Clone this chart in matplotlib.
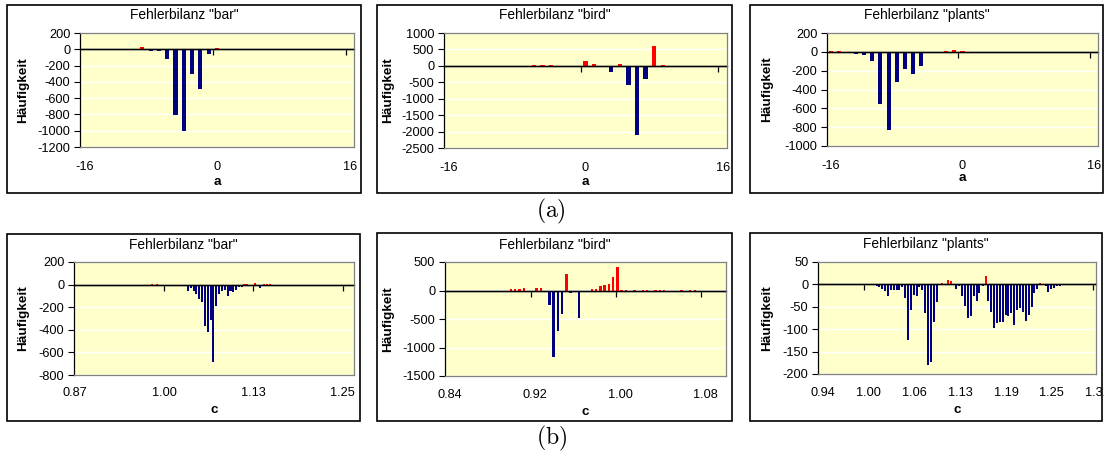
import matplotlib
matplotlib.use('Agg')
import matplotlib.pyplot as plt
from matplotlib.patches import Rectangle
import numpy as np

W, H = 1104, 459
plt.rcParams['font.family'] = ['Liberation Sans', 'DejaVu Sans']
plt.rcParams['axes.unicode_minus'] = False
plt.rcParams['mathtext.fontset'] = 'cm'

# ---------------- data ----------------
a_cats = list(range(-16, 17))
bar_a_vals = [0, 0, 0, 0, 0, 0,
              8, 25, -25, -25, -125, -805, -1000, -300, -485, -60, 10, 8,
              0, 0, 0, 0, 0, 0, 0, 0, 0, 0, 0, 0, 0, 0, 0]
bird_a_vals = [0, 0, 0, 0, 0, 0, 0, 0, 0,
               -15, 15, 30, 15, -20, -20, -20, 135, 50, -40, -190, 45, -575,
               -2110, -405, 605, 30, -20, 0, -25,
               0, 0, 0, 0]
plants_a_vals = [8, 8, -5, -21, -35, -100, -552, -835, -318, -180, -232, -150,
                 3, -3, 8, 15, 8,
                 0, 0, 0, 0, 0, 0, 0, 0, 0, 0, 0, 0, 0, 0, 0, 0]
a_tick_labels = ['-16', '0', '16']
a_label_pos = [-16, 0, 16]
a_tick_marks = [-0.5, 15.5]

bar_c_x = [0.9827, 0.9897,
           1.0096, 1.0136, 1.0176, 1.0216, 1.0256,
           1.0296, 1.0336, 1.0376, 1.0416, 1.0456, 1.0496, 1.0536, 1.0576,
           1.0616, 1.0656, 1.0696, 1.0736, 1.0776, 1.0816, 1.0856, 1.0896,
           1.0936, 1.0976, 1.1016, 1.1056, 1.1096,
           1.1134, 1.1174, 1.1214, 1.1280, 1.1352, 1.1412, 1.1452, 1.1492]
bar_c_y = [5, 5,
           -10, -6, -6, -4, -8,
           -15, -60, -27, -60, -86, -127, -157, -362, -422, -312, -686, -185,
           -80, -56, -50, -97, -56, -65, -44, -21, -21,
           4, 4, -9, 10, -27, 5, 5, 5]
bar_c_labels = ['0.87', '1.00', '1.13', '1.25']
bar_c_label_pos = [0.874, 1.0, 1.126, 1.252]
bar_c_tick_marks = [1.0, 1.126, 1.252]

bird_c_x = [0.865, 0.877, 0.8935, 0.8976, 0.9016, 0.9056, 0.9096, 0.9136,
            0.9221, 0.9258, 0.9298, 0.9338, 0.9378, 0.9418, 0.9458, 0.9498,
            0.9538, 0.9578, 0.9658, 0.9698, 0.9778, 0.9818, 0.9858, 0.9898,
            0.9938, 0.9978, 1.0018, 1.0058, 1.0098, 1.0178, 1.0258, 1.0298,
            1.0378, 1.0418, 1.0458, 1.0623, 1.0701, 1.0748]
bird_c_y = [-5, -5, -5, -5, 20, 20, 20, 40,
            -30, 47, 47, -30, -263, -1170, -702, -410,
            293, -47, -486, -30, 29, 29, 76, 105,
            117, 240, 410, 10, 10, 10, 10, 10,
            10, 10, 10, 10, 10, 10]
bird_c_labels = ['0.84', '0.92', '1.00', '1.08']
bird_c_label_pos = [0.8445, 0.9245, 1.0045, 1.0845]
bird_c_tick_marks = [0.92, 1.0, 1.08]

plants_c_x = [1.0184, 1.0220, 1.0256, 1.0296, 1.0337, 1.0373, 1.0413, 1.0454,
              1.0489, 1.0529, 1.0566, 1.0611, 1.0647, 1.0683, 1.0723, 1.0759,
              1.0799, 1.0840, 1.0876, 1.0916, 1.0953, 1.0993,
              1.1069, 1.1105, 1.1145, 1.1182,
              1.1257, 1.1294, 1.1334, 1.1374, 1.1411, 1.1451, 1.1492, 1.1532,
              1.1567, 1.1613, 1.1653,
              1.1689, 1.1725, 1.1765, 1.1806, 1.1842, 1.1882, 1.1923, 1.1958,
              1.1999, 1.2039, 1.2079, 1.2116, 1.2156, 1.2192, 1.2233, 1.2273,
              1.2308, 1.2349, 1.2385,
              1.2462, 1.2497, 1.2538, 1.2574, 1.2614, 1.2655, 1.2691,
              1.2812, 1.2888]
plants_c_y = [-3, -6, -10, -15, -25, -13, -13, -13,
              -13, -6, -30, -123, -58, -23, -26, -6,
              -12, -64, -179, -174, -84, -39,
              3, -2, 9, 7,
              -10, -4, -25, -48, -74, -71, -25, -37,
              -19, -3, 18,
              -37, -62, -97, -86, -83, -83, -68, -71,
              -64, -90, -58, -52, -62, -82, -68, -51,
              -19, -10, 3,
              -4, -16, -11, -8, -4, -3, -2,
              2, 2]
plants_c_labels = ['0.94', '1.00', '1.06', '1.13', '1.19', '1.25', '1.31']
plants_c_label_pos = [0.946, 1.0077, 1.0694, 1.1311, 1.1928, 1.2545, 1.3162]
plants_c_tick_marks = [1.0017, 1.3102]

# ---------------- drawing ----------------
fig = plt.figure(figsize=(W / 100, H / 100), dpi=100)
fig.patch.set_facecolor('white')

RED = '#FF0000'
NAVY = '#000080'
TICK_FS = 9.2


def panel(border, plot, title, title_y, xs, ys, width, ylim, ystep, xlim,
          lab_pos, lab_txt, tick_pos, xlabel, xlabel_y, ylabel_x, lab_off):
    l, t, r, b = border
    fig.add_artist(Rectangle((l / W, 1 - b / H), (r - l) / W, (b - t) / H,
                             transform=fig.transFigure, fill=False,
                             edgecolor='black', linewidth=1.2, zorder=-1))
    pl, pt, pr, pb = plot
    ax = fig.add_axes([pl / W, 1 - pb / H, (pr - pl) / W, (pb - pt) / H])
    ax.set_facecolor('#FFFFCC')
    colors = [RED if v > 0 else NAVY for v in ys]
    ax.bar(xs, ys, width=width, color=colors, linewidth=0, zorder=2)
    ax.set_xlim(*xlim)
    ax.set_ylim(*ylim)
    ax.set_yticks(np.arange(ylim[0], ylim[1] + 1, ystep))
    ax.yaxis.grid(True, color='white', linewidth=1.0)
    ax.set_axisbelow(True)
    ax.tick_params(axis='y', direction='out', length=4, width=0.8, pad=3,
                   labelsize=TICK_FS, colors='black')
    ax.set_xticks([])
    for s in ['top', 'right', 'bottom']:
        ax.spines[s].set_color('#808080')
        ax.spines[s].set_linewidth(0.9)
    ax.spines['left'].set_color('black')
    ax.spines['left'].set_linewidth(0.9)
    ax.axhline(0, color='black', linewidth=1.0, zorder=3)
    sec = ax.secondary_xaxis(0, transform=ax.transData)
    sec.set_xticks(tick_pos)
    sec.tick_params(direction='out', length=4, width=0.9,
                    labelbottom=False, colors='black')
    sec.spines['bottom'].set_color('black')
    sec.spines['bottom'].set_linewidth(1.0)
    for p, txt in zip(lab_pos, lab_txt):
        ax.annotate(txt, xy=(p, 0), xycoords=('data', 'axes fraction'),
                    xytext=(0, -lab_off), textcoords='offset pixels',
                    ha='center', va='center', fontsize=TICK_FS,
                    annotation_clip=False)
    fig.text(((l + r) / 2) / W, 1 - title_y / H, title, ha='center',
             va='center', fontsize=9.9)
    fig.text(ylabel_x / W, 1 - ((pt + pb) / 2) / H, 'Häufigkeit',
             rotation=90, ha='center', va='center', fontsize=9.7,
             fontweight='bold')
    fig.text(((pl + pr) / 2) / W, 1 - xlabel_y / H, xlabel, ha='center',
             va='center', fontsize=9.7, fontweight='bold')
    return ax


# top row (a)
panel((7, 5, 361, 193), (80, 33, 354, 147), 'Fehlerbilanz "bar"', 15,
      a_cats, bar_a_vals, 0.5, (-1200, 200), 200, (-16.5, 16.5),
      a_label_pos, a_tick_labels, a_tick_marks, 'a', 182, 23, 20)
panel((377, 5, 732, 193), (444, 33, 727, 148), 'Fehlerbilanz "bird"', 15,
      a_cats, bird_a_vals, 0.5, (-2500, 1000), 500, (-16.5, 16.5),
      a_label_pos, a_tick_labels, a_tick_marks, 'a', 182, 388, 20)
panel((750, 5, 1103, 193), (827, 33, 1098, 146), 'Fehlerbilanz "plants"', 15,
      a_cats, plants_a_vals, 0.5, (-1000, 200), 200, (-16.5, 16.5),
      a_label_pos, a_tick_labels, a_tick_marks, 'a', 178, 767, 20)

# bottom row (b)
panel((7, 234, 360, 421), (74, 262, 354, 375), 'Fehlerbilanz "bar"', 245,
      bar_c_x, bar_c_y, 0.0029, (-800, 200), 200, (0.8732, 1.2676),
      bar_c_label_pos, bar_c_labels, bar_c_tick_marks, 'c', 410, 23, 18.5)
panel((377, 233, 732, 421), (445, 262, 726, 376), 'Fehlerbilanz "bird"', 245,
      bird_c_x, bird_c_y, 0.0023, (-1500, 500), 500, (0.8395, 1.104),
      bird_c_label_pos, bird_c_labels, bird_c_tick_marks, 'c', 412, 388, 19)
panel((750, 233, 1102, 421), (818, 262, 1096, 374), 'Fehlerbilanz "plants"', 244,
      plants_c_x, plants_c_y, 0.0026, (-200, 50), 50, (0.9393, 1.3140),
      plants_c_label_pos, plants_c_labels, plants_c_tick_marks, 'c', 410, 767, 18.5)

fig.text(551 / W, 1 - 211 / H, r'$\mathrm{(a)}$', fontsize=17,
         ha='center', va='center')
fig.text(552 / W, 1 - 438 / H, r'$\mathrm{(b)}$', fontsize=17,
         ha='center', va='center')

fig.savefig('out.png', dpi=100, facecolor='white')
